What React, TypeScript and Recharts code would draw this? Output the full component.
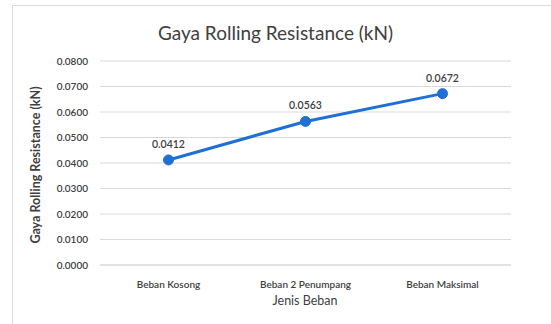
import React from 'react';
import { LineChart, Line, XAxis, YAxis, CartesianGrid, LabelList } from 'recharts';

const categories = ['Beban Kosong', 'Beban 2 Penumpang', 'Beban Maksimal'];
const values = [0.0412, 0.0563, 0.0672];
const yTicks = [0, 0.01, 0.02, 0.03, 0.04, 0.05, 0.06, 0.07, 0.08];
const title = 'Gaya Rolling Resistance (kN)';
const xTitle = 'Jenis Beban';
const yTitle = 'Gaya Rolling Resistance (kN)';

const data = categories.map((c, i) => ({ name: c, value: values[i] }));

const FONT = 'Lato, "Open Sans", sans-serif';
const BLUE = '#1f6fd6';

export default function App() {
  return (
    <div style={{ position: 'absolute', left: 0, top: 0, width: 551, height: 324, background: '#fff', fontFamily: FONT }}>
      <div style={{ position: 'absolute', left: 12, top: 5, width: 560, height: 330, borderLeft: '1px solid #d9d9d9', borderTop: '1px solid #d9d9d9' }} />
      <div style={{ position: 'absolute', left: 0, width: 551, top: 21, textAlign: 'center', fontSize: 19, color: '#404040', lineHeight: '24px' }}>{title}</div>
      <div style={{ position: 'absolute', left: 0, top: 0 }}>
        <LineChart width={551} height={324} data={data} margin={{ top: 61, right: 40, bottom: 0, left: 0 }}>
          <CartesianGrid vertical={false} stroke="#d9d9d9" />
          <XAxis
            dataKey="name"
            height={59}
            padding={{ left: 68.5, right: 68.5 }}
            axisLine={{ stroke: '#d9d9d9' }}
            tickLine={false}
            tick={{ fontSize: 10, fill: '#404040', fontFamily: FONT, fontWeight: 600 }}
            tickMargin={10}
            label={{
              content: (props: any) => {
                const vb = props.viewBox;
                return (
                  <text x={305} y={vb.y + 40} textAnchor="middle" fontSize={12.5} fill="#404040" fontFamily={FONT}>
                    {xTitle}
                  </text>
                );
              },
            }}
          />
          <YAxis
            width={100}
            domain={[0, 0.08]}
            ticks={yTicks}
            interval={0}
            axisLine={false}
            tickLine={false}
            tickMargin={6}
            tickFormatter={(v: number) => v.toFixed(4)}
            tick={{ fontSize: 10, fill: '#404040', fontFamily: FONT, fontWeight: 600 }}
            label={{
              content: (props: any) => {
                const vb = props.viewBox;
                const cx = 37;
                const cy = vb.y + vb.height / 2 + 2;
                return (
                  <text x={cx} y={cy} transform={`rotate(-90 ${cx} ${cy})`} textAnchor="middle" dominantBaseline="middle" fontSize={12.5} fontWeight={700} fill="#404040" fontFamily={FONT}>
                    {yTitle}
                  </text>
                );
              },
            }}
          />
          <Line
            type="linear"
            dataKey="value"
            stroke={BLUE}
            strokeWidth={3}
            dot={{ r: 5, fill: BLUE, stroke: BLUE, strokeWidth: 1 }}
            isAnimationActive={false}
          >
            <LabelList
              dataKey="value"
              position="top"
              offset={12}
              formatter={(v: number) => v.toFixed(4)}
              style={{ fontSize: 10.5, fill: '#404040', fontFamily: FONT, fontWeight: 600 }}
            />
          </Line>
        </LineChart>
      </div>
    </div>
  );
}
